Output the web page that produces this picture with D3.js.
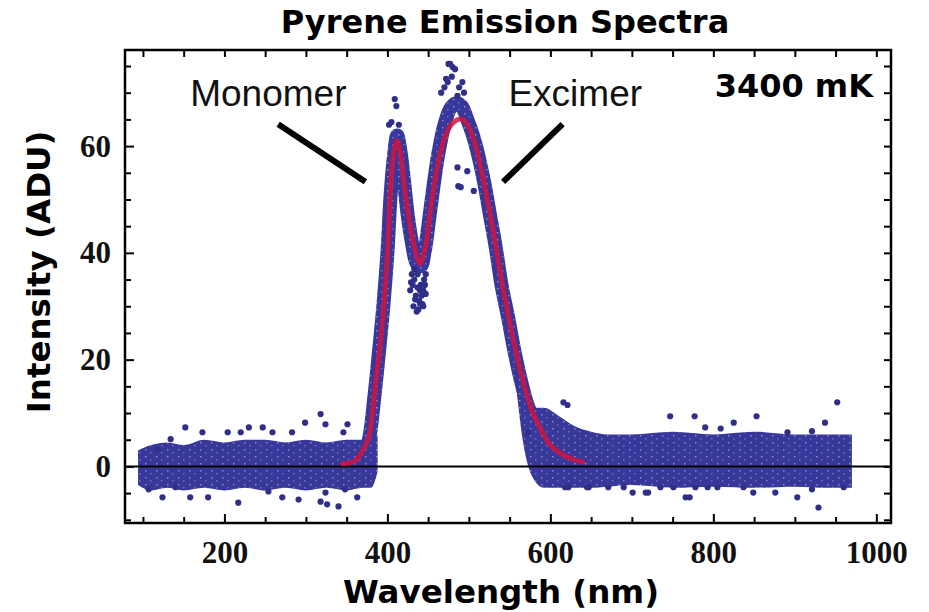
<!DOCTYPE html>
<html><head><meta charset="utf-8">
<script src="https://cdn.jsdelivr.net/npm/d3@7"></script>
<style>body{margin:0;background:#fff}</style></head>
<body>
<svg id="c" width="929" height="612"></svg>
<script>
// ---------- data ----------
const fitLambda = [345,360,368,377,385,394,400,404,408,412,416,422,428,434,440,446,452,460,468,476,484,492,500,510,520,530,540,550,560,570,580,590,600,615,630,640];
const fitValue  = [0.5,1.0,2.5,5.4,14.8,27.2,39.8,52,59,61,58.5,51,45,40.5,38,40.5,47,55,60.5,63.5,64.8,65,63.5,59,52,44,35,27,20,14,9.5,6.5,4,2.2,1.2,0.8];

// centre line of the dense point cloud in the peak region
const cloudLambda = [372,378,384,390,395,400,404,408,412,416,420,425,430,436,441,446,451,457,463,470,477,484,491,498,505,512,519,526,533,540,548,556,564,572,580,590];
const cloudValue  = [2,5.5,13,22,30,40,51,58,62,59,54,47,42,38,37.5,40.5,46,53,59,64,67,68,67.5,65,62,58,53,47,41,34,28,21.5,16,11.5,8.5,6];

// envelope of the dense baseline noise
const leftBandLambda = [94,110,130,150,175,200,225,250,275,300,325,350,370,380,388];
const leftBandLow    = [-3.5,-4.5,-4,-4.5,-4,-4.5,-4,-4.5,-4,-4.5,-4,-4.5,-4,-4,-1];
const leftBandHigh   = [3,4,4.5,4,5,4.5,5,5,4.5,5,4.5,5,5,5.5,6];
const rightBandLambda = [556,566,578,592,610,630,650,670,700,750,800,850,900,940,970];
const rightBandLow    = [18,5,-2,-4,-4,-4,-4,-3.8,-3.5,-4,-3.8,-4,-3.8,-4,-4];
const rightBandHigh   = [20,13,11,11,9.5,7.5,6.5,6,6,6.5,6,6.5,6,6,6];

// individual points that stand out of the dense cloud
const pointLambda = [152,173,204,220,230,247,259,299,318,324,351,346,134,118,283,
  124,158,180,217,254,271,291,318,326,340,363,348,324,107,140,
  747,777,853,825,952,937,790,809,891,921,
  690,701,720,735,751,771,778,793,805,837,849,876,903,921,929,960,
  616,621,618,645,717,766,622,647,671,573,
  409,411,405,414,402,
  475,480,472,477,483,486,470,492,466,474,488,494,479,
  486,487,490,498,506,
  438,443,434,447,440,431,445,428,432,436,439,442,446,433,437,444,430,
  433,437,441,444,435,440,429,447];
const pointValue = [7.3,6.4,6.4,6.4,7.3,7.3,6.4,8.2,9.8,7.9,7.9,6.4,5.1,3.2,6.4,
  -5.8,-5.8,-5.8,-6.8,-4.7,-5.8,-6.2,-6.6,-7.1,-7.5,-5.8,-4.3,-4.9,-4.3,-3.9,
  9.4,9.4,9.4,8.2,12,8.2,7.3,7.1,6.4,6.6,
  -3.9,-4.9,-4.9,-3.9,-3.9,-5.8,-3.9,-3.9,-3.9,-3.9,-4.9,-4.9,-5.8,-4.3,-7.7,-3.9,
  12,11.5,-3.9,-3.9,-4.9,-5.8,-3.9,-3.9,-3.9,6.4,
  68.8,67.5,64.5,64,64,
  75.4,74.8,72.6,75.4,74.4,69.4,71,72,70,72,71,70,73,
  56,52.5,52.3,55.3,51.6,
  29.4,30.4,31.3,32.3,33,34,35,33,30,29,31,32,34,35,33.5,30,36,
  37,36,34,33,32,30.5,34.5,36];

const xMajorTicks = [200,400,600,800,1000];
const xMinorTicks = [100,150,250,300,350,450,500,550,650,700,750,850,900,950];
const yMajorTicks = [0,20,40,60];
const yMinorTicks = [-10,-5,5,10,15,25,30,35,45,50,55,65,70,75];

const titleText = "Pyrene Emission Spectra";
const xLabel = "Wavelength (nm)";
const yLabel = "Intensity (ADU)";
const tempLabel = "3400 mK";
const annotations = [
  {text:"Monomer", tx:158, ty:67.5, x1:266, y1:64.1, x2:373, y2:53.3},
  {text:"Excimer", tx:548.5, ty:67.5, x1:615, y1:64.1, x2:542, y2:53.3}
];

// ---------- drawing ----------
const svg = d3.select("#c");
const L=125, R=891, T=50, B=523;
const x = d3.scaleLinear().domain([78,1018]).range([L,R]);
const y = d3.scaleLinear().domain([-10.6,78]).range([B,T]);
const dotColor = "#38389a";

const defs = svg.append("defs");
const pat = defs.append("pattern").attr("id","speck").attr("patternUnits","userSpaceOnUse")
  .attr("width",11).attr("height",7);
pat.append("rect").attr("width",11).attr("height",7).attr("fill",dotColor);
pat.append("rect").attr("x",2).attr("y",1).attr("width",1.5).attr("height",1.5).attr("fill","#8a8ac8");
pat.append("rect").attr("x",7).attr("y",4).attr("width",1.5).attr("height",1.5).attr("fill","#7070b8");
defs.append("clipPath").attr("id","clip").append("rect").attr("x",L).attr("y",T).attr("width",R-L).attr("height",B-T);

const g = svg.append("g").attr("clip-path","url(#clip)");

function band(lam, lo, hi){
  const d = lam.map((l,i)=>({l, lo:lo[i], hi:hi[i]}));
  g.append("path").datum(d)
    .attr("d", d3.area().x(p=>x(p.l)).y0(p=>y(p.lo)).y1(p=>y(p.hi)).curve(d3.curveMonotoneX))
    .attr("fill","url(#speck)");
}
band(leftBandLambda,leftBandLow,leftBandHigh);
band(rightBandLambda,rightBandLow,rightBandHigh);

const cloud = cloudLambda.map((l,i)=>[l,cloudValue[i]]);
g.append("path").datum(cloud)
  .attr("d", d3.line().x(p=>x(p[0])).y(p=>y(p[1])).curve(d3.curveCatmullRom))
  .attr("fill","none").attr("stroke","url(#speck)").attr("stroke-width",14)
  .attr("stroke-linejoin","round").attr("stroke-linecap","round");

g.selectAll("circle.pt").data(pointLambda.map((l,i)=>[l,pointValue[i]])).enter()
  .append("circle").attr("class","pt")
  .attr("cx",p=>x(p[0])).attr("cy",p=>y(p[1])).attr("r",3.1).attr("fill","#2f2f88");

// zero line
g.append("line").attr("x1",L).attr("x2",R).attr("y1",y(0)).attr("y2",y(0))
  .attr("stroke","#000").attr("stroke-width",2);

// fit
const fit = fitLambda.map((l,i)=>[l,fitValue[i]]);
g.append("path").datum(fit)
  .attr("d", d3.line().x(p=>x(p[0])).y(p=>y(p[1])).curve(d3.curveCatmullRom))
  .attr("fill","none").attr("stroke","#d0143f").attr("stroke-opacity",0.85).attr("stroke-width",5)
  .attr("stroke-linejoin","round").attr("stroke-linecap","round");

// axes with inward ticks on all four sides
const tickFont = "'Liberation Serif', 'Times New Roman', serif";
function styleAxis(sel){
  sel.select(".domain").remove();
  sel.selectAll("line").attr("stroke","#000").attr("stroke-width",2);
  sel.selectAll("text").attr("font-family",tickFont).attr("font-weight","bold")
     .attr("font-size",31).attr("fill","#111");
}
svg.append("g").attr("transform",`translate(0,${B})`)
  .call(d3.axisBottom(x).tickValues(xMajorTicks).tickSizeInner(-9).tickSizeOuter(0).tickPadding(18).tickFormat(d3.format("d")))
  .call(styleAxis);
svg.append("g").attr("transform",`translate(0,${B})`)
  .call(d3.axisBottom(x).tickValues(xMinorTicks).tickSizeInner(-6).tickSizeOuter(0).tickFormat(""))
  .call(styleAxis);
svg.append("g").attr("transform",`translate(0,${T})`)
  .call(d3.axisTop(x).tickValues(xMajorTicks.concat(xMinorTicks)).tickSizeInner(-7).tickSizeOuter(0).tickFormat(""))
  .call(styleAxis);
svg.append("g").attr("transform",`translate(${L},0)`)
  .call(d3.axisLeft(y).tickValues(yMajorTicks).tickSizeInner(-9).tickSizeOuter(0).tickPadding(14).tickFormat(d3.format("d")))
  .call(styleAxis);
svg.append("g").attr("transform",`translate(${L},0)`)
  .call(d3.axisLeft(y).tickValues(yMinorTicks).tickSizeInner(-6).tickSizeOuter(0).tickFormat(""))
  .call(styleAxis);
svg.append("g").attr("transform",`translate(${R},0)`)
  .call(d3.axisRight(y).tickValues(yMajorTicks.concat(yMinorTicks)).tickSizeInner(-7).tickSizeOuter(0).tickFormat(""))
  .call(styleAxis);

svg.append("rect").attr("x",L).attr("y",T).attr("width",R-L).attr("height",B-T)
  .attr("fill","none").attr("stroke","#000").attr("stroke-width",2.5);

// annotations
const annFont = "'Liberation Sans', Arial, sans-serif";
annotations.forEach(a=>{
  svg.append("line").attr("x1",x(a.x1)).attr("y1",y(a.y1)).attr("x2",x(a.x2)).attr("y2",y(a.y2))
    .attr("stroke","#000").attr("stroke-width",6);
  svg.append("text").attr("x",x(a.tx)).attr("y",y(a.ty)).text(a.text)
    .attr("font-family",annFont).attr("font-size",37).attr("fill","#111");
});

const boldFont = "'DejaVu Sans', Verdana, sans-serif";
svg.append("text").attr("x",873).attr("y",97).attr("text-anchor","end").text(tempLabel)
  .attr("font-family",boldFont).attr("font-weight","bold").attr("font-size",32).attr("fill","#000");
svg.append("text").attr("x",505).attr("y",33).attr("text-anchor","middle").text(titleText)
  .attr("font-family",boldFont).attr("font-weight","bold").attr("font-size",32).attr("fill","#000");
svg.append("text").attr("x",501).attr("y",603).attr("text-anchor","middle").text(xLabel)
  .attr("font-family",boldFont).attr("font-weight","bold").attr("font-size",32.5).attr("fill","#000");
svg.append("text").attr("transform","translate(50,272) rotate(-90)").attr("text-anchor","middle").text(yLabel)
  .attr("font-family",boldFont).attr("font-weight","bold").attr("font-size",32.5).attr("fill","#000");
</script>
</body></html>
